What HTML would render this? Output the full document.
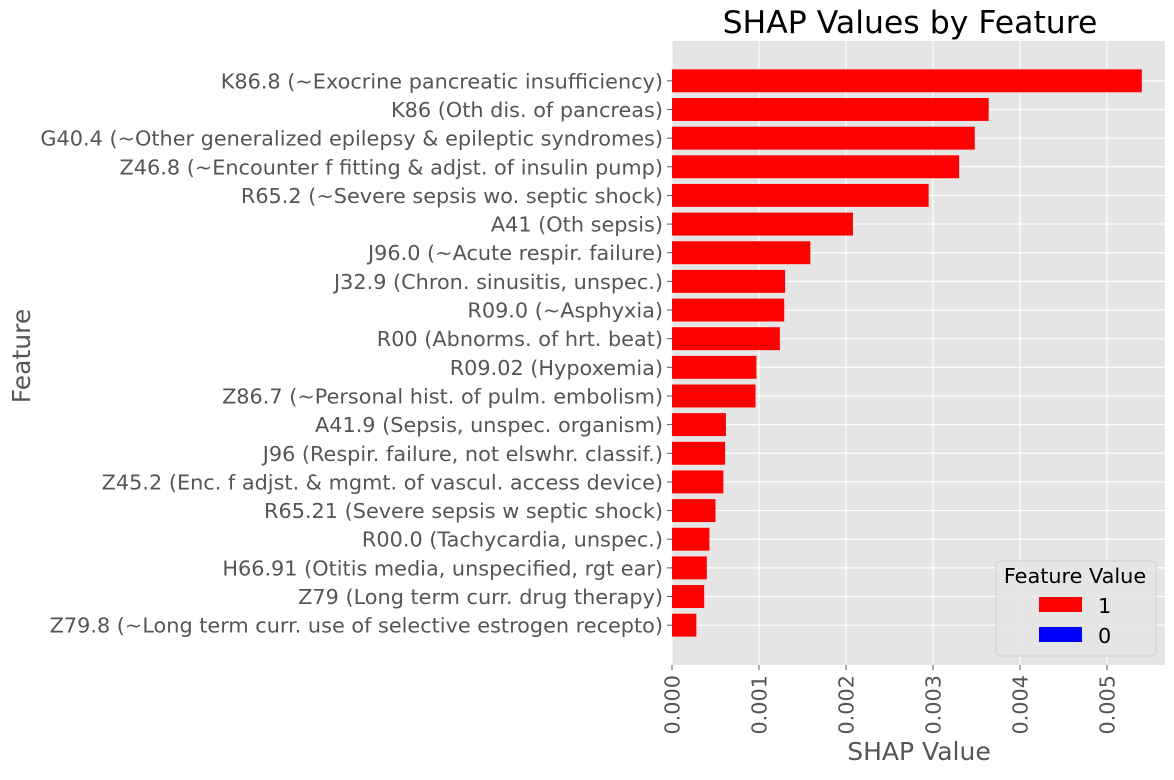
<!DOCTYPE html>
<html><head><meta charset="utf-8"><style>
body{margin:0;background:#fff;}
svg{font-family:"DejaVu Sans","Liberation Sans",sans-serif;}
</style></head><body>
<svg id="chart" width="1174" height="775" xmlns="http://www.w3.org/2000/svg">
<rect x="672" y="41" width="493" height="624" fill="#e5e5e5"/>
<g id="grid"></g>
<g id="bars"></g>
<g id="yt"></g>
<g id="xt"></g>
<text x="910" y="33" font-size="31.5" text-anchor="middle" fill="#000">SHAP Values by Feature</text>
<text x="919" y="760" font-size="25" text-anchor="middle" fill="#555">SHAP Value</text>
<text x="30" y="356" font-size="25" text-anchor="middle" fill="#555" transform="rotate(-90 30 356)">Feature</text>
<g>
<rect x="996" y="561" width="160" height="95" rx="4" fill="#e5e5e5" stroke="#cccccc" opacity="0.9"/>
<text x="1075" y="583" font-size="20.8" text-anchor="middle" fill="#000">Feature Value</text>
<rect x="1039" y="597" width="43" height="15" fill="#ff0000"/>
<text x="1098" y="613" font-size="20.8" fill="#000">1</text>
<rect x="1039" y="627" width="43" height="15" fill="#0000ff"/>
<text x="1098" y="643" font-size="20.8" fill="#000">0</text>
</g>
</svg>
<script>
const categories=["K86.8 (~Exocrine pancreatic insufficiency)","K86 (Oth dis. of pancreas)","G40.4 (~Other generalized epilepsy & epileptic syndromes)","Z46.8 (~Encounter f fitting & adjst. of insulin pump)","R65.2 (~Severe sepsis wo. septic shock)","A41 (Oth sepsis)","J96.0 (~Acute respir. failure)","J32.9 (Chron. sinusitis, unspec.)","R09.0 (~Asphyxia)","R00 (Abnorms. of hrt. beat)","R09.02 (Hypoxemia)","Z86.7 (~Personal hist. of pulm. embolism)","A41.9 (Sepsis, unspec. organism)","J96 (Respir. failure, not elswhr. classif.)","Z45.2 (Enc. f adjst. & mgmt. of vascul. access device)","R65.21 (Severe sepsis w septic shock)","R00.0 (Tachycardia, unspec.)","H66.91 (Otitis media, unspecified, rgt ear)","Z79 (Long term curr. drug therapy)","Z79.8 (~Long term curr. use of selective estrogen recepto)"];
const values=[0.00540,0.00364,0.00348,0.00330,0.00295,0.00208,0.00159,0.00130,0.00129,0.00124,0.00097,0.00096,0.00062,0.00061,0.00059,0.00050,0.00043,0.00040,0.00037,0.00028];
const xTicks=[0,0.001,0.002,0.003,0.004,0.005];
const xTickLabels=["0.000","0.001","0.002","0.003","0.004","0.005"];
const NS="http://www.w3.org/2000/svg";
const X0=672,PPU=87000,PTOP=41,PBOT=665;
const N=categories.length;
const MARGIN=0.05*(N-1+0.8);
const STEP=(PBOT-PTOP)/(N-1+0.8+2*MARGIN);
function xs(v){return X0+v*PPU;}
function ys(i){return PTOP+(MARGIN+0.4+i)*STEP;}
function mk(t,a,p){const e=document.createElementNS(NS,t);for(const k in a)e.setAttribute(k,a[k]);p.appendChild(e);return e;}
const grid=document.getElementById('grid'),bars=document.getElementById('bars'),yt=document.getElementById('yt'),xt=document.getElementById('xt');
xTicks.forEach((t,i)=>{const x=xs(t);
const g=mk('line',{x1:x,x2:x,y1:PTOP,y2:PBOT,stroke:'#fff','stroke-width':1.2},grid);


mk('line',{x1:x,x2:x,y1:PBOT,y2:PBOT+5,stroke:'#555'},xt);
const tx=mk('text',{x:0,y:0,'font-size':20.8,fill:'#555','text-anchor':'end',transform:`translate(${x+7.5},${PBOT+10}) rotate(-90)`},xt);
tx.textContent=xTickLabels[i];


});
categories.forEach((c,i)=>{const y=ys(i);
const g=mk('line',{x1:X0,x2:1165,y1:y,y2:y,stroke:'#fff','stroke-width':1.2},grid);


const b=mk('rect',{x:X0,y:y-0.4*STEP,width:Math.max(0,xs(values[i])-X0),height:0.8*STEP,fill:'#ff0000'},bars);


mk('line',{x1:X0-5,x2:X0,y1:y,y2:y,stroke:'#555'},yt);
const t=mk('text',{x:X0-9,y:y+7.5,'font-size':20.8,fill:'#555','text-anchor':'end'},yt);
t.textContent=c;


});
</script>
</body></html>
